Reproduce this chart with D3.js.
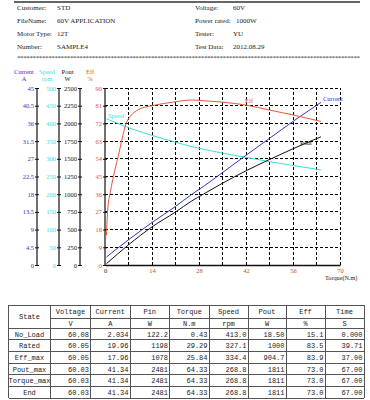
<!DOCTYPE html>
<html><head><meta charset="utf-8">
<script src="https://cdn.jsdelivr.net/npm/d3@7"></script>
<style>html,body{margin:0;padding:0;background:#fff;}svg{display:block;}</style>
</head><body>
<script>
// ---- header info
const infoLeft = [["Customer:", "STD"], ["FileName:", "60V APPLICATION"], ["Motor Type:", "12T"], ["Number:", "SAMPLE4"]];
const infoRight = [["Voltage:", "60V"], ["Power rated:", "1000W"], ["Tester:", "YU"], ["Test Data:", "2012.08.29"]];

// ---- axes ticks
const torqueTicks = [0, 14, 28, 42, 56, 70];
const torqueGrid = [7, 14, 21, 28, 35, 42, 49, 56, 63, 70];
const currentTicks = [0, 4.5, 9, 13.5, 18, 22.5, 27, 31.5, 36, 40.5, 45];
const speedTicks = [0, 50, 100, 150, 200, 250, 300, 350, 400, 450, 500];
const poutTicks = [0, 250, 500, 750, 1000, 1250, 1500, 1750, 2000, 2250, 2500];
const effTicks = [0, 9, 18, 27, 36, 45, 54, 63, 72, 81, 90];

// ---- curves (torque N.m)
const torque = [0.43, 7, 14, 21, 25.84, 29.29, 35, 42, 49, 56, 64.33];
const current = [2.034, 6.4, 10.8, 14.9, 17.96, 19.96, 23.5, 27.9, 32.2, 36.5, 41.34];
const speed = [413.0, 388, 366, 347, 334.4, 327.1, 316, 304, 292, 281, 268.8];
const pout = [18.5, 285, 538, 748, 904.7, 1000, 1155, 1330, 1490, 1642, 1811];
const effTorque = [0.43, 0.8, 1.7, 2.5, 3.9, 5, 6.3, 7.5, 9, 11, 14, 21, 25.84, 29.29, 35, 42, 49, 56, 64.33];
const eff = [15.1, 28, 38, 45, 55, 63.5, 72, 75.5, 78, 79.8, 81, 83, 83.9, 83.5, 82.8, 81.3, 78.8, 76.3, 73.0];

// ---- table
const tableHead = ["State", "Voltage", "Current", "Pin", "Torque", "Speed", "Pout", "Eff", "Time"];
const tableUnits = ["V", "A", "W", "N.m", "rpm", "W", "%", "S"];
const states = ["No_Load", "Rated", "Eff_max", "Pout_max", "Torque_max", "End"];
const tVoltage = ["60.08", "60.05", "60.05", "60.03", "60.03", "60.03"];
const tCurrent = ["2.034", "19.96", "17.96", "41.34", "41.34", "41.34"];
const tPin = ["122.2", "1198", "1078", "2481", "2481", "2481"];
const tTorque = ["0.43", "29.29", "25.84", "64.33", "64.33", "64.33"];
const tSpeed = ["413.0", "327.1", "334.4", "268.8", "268.8", "268.8"];
const tPout = ["18.50", "1000", "904.7", "1811", "1811", "1811"];
const tEff = ["15.1", "83.5", "83.9", "73.0", "73.0", "73.0"];
const tTime = ["0.000", "39.71", "37.00", "67.00", "67.00", "67.00"];

const C_CUR = "#3434c8", C_SPD = "#3cdede", C_EFF = "#e8553a", C_XT = "#b8561e";
const serif = "'Liberation Serif', 'DejaVu Serif', serif";
const mono = "'Liberation Mono', 'DejaVu Sans Mono', monospace";

const svg = d3.select("body").append("svg").attr("width", 370).attr("height", 400);

// header
svg.append("line").attr("x1", 14).attr("x2", 360).attr("y1", 2).attr("y2", 2).attr("stroke", "#333").attr("stroke-width", 1.5);
const hdr = svg.append("g").attr("font-family", serif).attr("font-size", 7).attr("fill", "#222");
infoLeft.forEach((d, i) => {
  hdr.append("text").attr("x", 17).attr("y", 10 + i * 13).text(d[0]);
  hdr.append("text").attr("x", 57).attr("y", 10 + i * 13).text(d[1]);
});
infoRight.forEach((d, i) => {
  hdr.append("text").attr("x", 195).attr("y", 10 + i * 13).text(d[0]);
  hdr.append("text").attr("x", i === 1 ? 236 : 233).attr("y", 10 + i * 13).text(d[1]);
});
svg.append("text").attr("x", 17).attr("y", 60).attr("font-family", serif).attr("font-size", 7)
  .attr("textLength", 343).attr("lengthAdjust", "spacing").attr("fill", "#333").text("*".repeat(110));

// scales
const x = d3.scaleLinear().domain([0, 70]).range([105, 340]);
const yCur = d3.scaleLinear().domain([0, 45]).range([265, 88]);
const ySpd = d3.scaleLinear().domain([0, 500]).range([265, 88]);
const yPout = d3.scaleLinear().domain([0, 2500]).range([265, 88]);
const yEff = d3.scaleLinear().domain([0, 90]).range([265, 88]);

// grid
const grid = svg.append("g").attr("stroke", "#000").attr("stroke-width", 1).attr("stroke-dasharray", "3,2").attr("shape-rendering", "crispEdges");
effTicks.filter(v => v > 0).forEach(v => {
  grid.append("line").attr("x1", x(0)).attr("x2", x(70)).attr("y1", yEff(v)).attr("y2", yEff(v));
});
torqueGrid.forEach(v => {
  grid.append("line").attr("x1", x(v)).attr("x2", x(v)).attr("y1", yEff(0)).attr("y2", yEff(90));
});

// axes
function leftAxis(scale, ticks, xPos, color, fmt) {
  const g = svg.append("g").attr("transform", `translate(${xPos},0)`);
  g.call(d3.axisLeft(scale).tickValues(ticks).tickSize(3).tickFormat(fmt));
  g.select(".domain").attr("stroke", "#111").attr("stroke-width", 1.2).attr("d", `M0,${scale.range()[0]}V${scale.range()[1]}`);
  g.selectAll(".tick line").attr("stroke", "#111").attr("x1", 2).attr("x2", -2);
  g.selectAll(".tick text").attr("fill", color).attr("font-family", serif).attr("font-size", 6.5).attr("x", -3);
  return g;
}
leftAxis(yCur, currentTicks, 37, C_CUR, d => d3.format("")(d));
leftAxis(ySpd, speedTicks, 59, C_SPD, d => d);
leftAxis(yPout, poutTicks, 80, "#111", d => d);
leftAxis(yEff, effTicks, 105, C_EFF, d => d);

const xAxis = svg.append("g").attr("transform", "translate(0,265)")
  .call(d3.axisBottom(x).tickValues(torqueTicks).tickSize(0));
xAxis.select(".domain").attr("stroke", "#111").attr("stroke-width", 1.5);
xAxis.selectAll(".tick text").attr("fill", (d) => d === 0 ? "#222" : C_XT).attr("font-family", serif).attr("font-size", 6.5).attr("y", 3);
svg.append("text").attr("x", 325).attr("y", 280).attr("font-family", serif).attr("font-size", 6.2).attr("fill", "#222").text("Torque(N.m)");

// axis titles
const titles = [["Current", "A", 24, C_CUR], ["Speed", "rpm", 47, C_SPD], ["Pout", "W", 67.5, "#111"], ["Eff", "%", 90, C_EFF]];
titles.forEach(t => {
  svg.append("text").attr("x", t[2]).attr("y", 74).attr("text-anchor", "middle").attr("font-family", serif).attr("font-size", 6.5).attr("fill", t[3]).text(t[0]);
  svg.append("text").attr("x", t[2]).attr("y", 80.5).attr("text-anchor", "middle").attr("font-family", serif).attr("font-size", 6.5).attr("fill", t[3]).text(t[1]);
});

// curves
function curve(xs, ys, yScale, color) {
  const line = d3.line().x((d, i) => x(xs[i])).y(d => yScale(d)).curve(d3.curveMonotoneX);
  svg.append("path").attr("d", line(ys)).attr("fill", "none").attr("stroke", color).attr("stroke-width", 1);
}
curve(torque, speed, ySpd, C_SPD);
curve(torque, current, yCur, C_CUR);
curve(torque, pout, yPout, "#111");
curve(effTorque, eff, yEff, C_EFF);

const lab = svg.append("g").attr("font-family", serif).attr("font-size", 6.5);
lab.append("text").attr("x", 108).attr("y", 118).attr("fill", C_SPD).text("Speed");
lab.append("text").attr("x", 245).attr("y", 103).attr("fill", C_EFF).text("Eff");
lab.append("text").attr("x", 323).attr("y", 101).attr("fill", C_CUR).text("Current");
lab.append("text").attr("x", 300).attr("y", 145).attr("fill", "#111").text("Pout");

// table
const colX = [8.5, 50.5, 90.5, 130, 169.5, 209, 248, 286, 325, 364];
const rowY = [305, 318, 328, 339.7, 351.3, 363, 374.6, 386.3, 398];
const tb = svg.append("g").attr("font-family", mono).attr("font-size", 7).attr("fill", "#222");
const cols = [tVoltage, tCurrent, tPin, tTorque, tSpeed, tPout, tEff, tTime];
const tl = svg.append("g").attr("stroke", "#555").attr("stroke-width", 1).attr("shape-rendering", "crispEdges");
rowY.forEach((y, i) => {
  tl.append("line").attr("x1", i === 1 ? colX[1] : colX[0]).attr("x2", colX[9]).attr("y1", y).attr("y2", y);
});
colX.forEach((cx, i) => {
  tl.append("line").attr("x1", cx).attr("x2", cx).attr("y1", rowY[0]).attr("y2", rowY[8]);
});
tb.append("text").attr("x", (colX[0] + colX[1]) / 2).attr("y", 319).attr("text-anchor", "middle").text(tableHead[0]);
tableHead.slice(1).forEach((h, j) => {
  const cx = (colX[j + 1] + colX[j + 2]) / 2;
  tb.append("text").attr("x", cx).attr("y", 314).attr("text-anchor", "middle").text(h);
  tb.append("text").attr("x", cx).attr("y", 325.5).attr("text-anchor", "middle").text(tableUnits[j]);
});
states.forEach((s, r) => {
  const yb = rowY[r + 2] + 8.6;
  tb.append("text").attr("x", (colX[0] + colX[1]) / 2).attr("y", yb).attr("text-anchor", "middle").text(s);
  cols.forEach((col, j) => {
    tb.append("text").attr("x", colX[j + 2] - 1.5).attr("y", yb).attr("text-anchor", "end").text(col[r]);
  });
});
</script>
</body></html>
